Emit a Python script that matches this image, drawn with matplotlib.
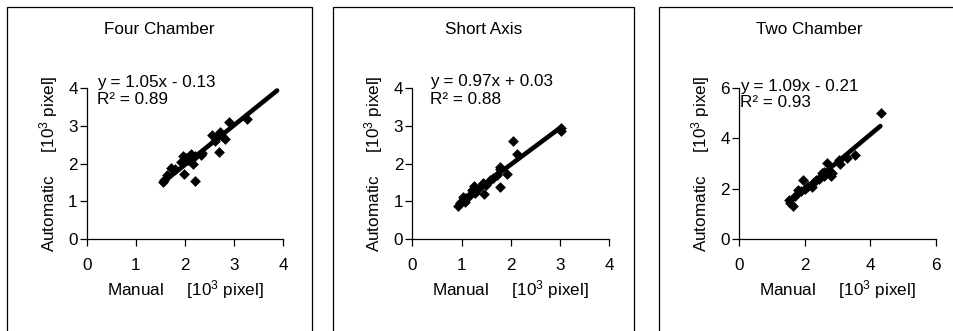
import matplotlib
matplotlib.use("Agg")
import matplotlib.pyplot as plt
from matplotlib.patches import Rectangle
import numpy as np

plt.rcParams['font.family'] = ['Liberation Sans', 'DejaVu Sans']
plt.rcParams['mathtext.fontset'] = 'custom'
plt.rcParams['mathtext.rm'] = 'Liberation Sans'
plt.rcParams['mathtext.it'] = 'Liberation Sans:italic'

titles = ["Four Chamber", "Short Axis", "Two Chamber"]
equations = ["y = 1.05x - 0.13", "y = 0.97x + 0.03", "y = 1.09x - 0.21"]
r2_labels = ["0.89", "0.88", "0.93"]
slopes = [1.05, 0.97, 1.09]
intercepts = [-0.13, 0.03, -0.21]
line_x_ranges = [(1.55, 3.87), (0.93, 3.02), (1.51, 4.31)]
axis_max = [4, 4, 6]
tick_steps = [1, 1, 2]

four_x = [1.55, 1.57, 1.63, 1.71, 1.80, 1.91, 1.96, 1.98, 2.02, 2.05, 2.11, 2.17, 2.20, 2.20,
          2.34, 2.33, 2.54, 2.60, 2.65, 2.69, 2.71, 2.75, 2.81, 2.90, 3.25]
four_y = [1.50, 1.56, 1.70, 1.87, 1.85, 2.05, 2.20, 1.72, 2.15, 2.10, 2.25, 2.00, 1.54, 2.20,
          2.29, 2.22, 2.75, 2.60, 2.70, 2.30, 2.84, 2.72, 2.64, 3.11, 3.17]

short_x = [0.93, 0.97, 1.00, 1.03, 1.05, 1.08, 1.10, 1.15, 1.22, 1.25, 1.27, 1.35, 1.43, 1.46,
           1.50, 1.58, 1.65, 1.73, 1.78, 1.78, 1.79, 1.92, 2.05, 2.13, 3.02, 3.02]
short_y = [0.88, 0.95, 1.00, 1.12, 1.05, 0.99, 1.08, 1.15, 1.30, 1.40, 1.23, 1.35, 1.49, 1.18,
           1.42, 1.55, 1.62, 1.70, 1.85, 1.90, 1.39, 1.72, 2.60, 2.25, 2.86, 2.95]

two_x = [1.51, 1.56, 1.66, 1.72, 1.81, 1.90, 1.95, 2.00, 2.10, 2.22, 2.27, 2.35, 2.45, 2.53,
         2.58, 2.60, 2.68, 2.75, 2.82, 2.83, 3.04, 3.09, 3.29, 3.55, 4.34]
two_y = [1.55, 1.42, 1.31, 1.70, 1.95, 1.90, 2.34, 2.00, 2.10, 2.08, 2.21, 2.35, 2.40, 2.61,
         2.67, 2.50, 3.01, 2.70, 2.52, 2.64, 3.14, 3.00, 3.21, 3.34, 5.02]

data_x = [four_x, short_x, two_x]
data_y = [four_y, short_y, two_y]

W, H = 954, 331
fig = plt.figure(figsize=(W / 100, H / 100), dpi=100)

ax_left_px = [86.7, 412.3, 739.0]
ax_width_px = 196.8
ax_bottom_px = 239.0
ax_top_px = 88.0
box_left_px = [7, 333, 659]
box_right_px = [312, 634, 960]
fs = 12.3
eq_x_px = [10, 17.7, 1]
eq_y_px = [83, 81.7, 86.0]
r2_y_px = [100, 99, 102.5]

for i in range(3):
    ax = fig.add_axes([ax_left_px[i] / W, 1 - ax_bottom_px / H, ax_width_px / W,
                       (ax_bottom_px - ax_top_px) / H])
    ax.patch.set_alpha(0)
    ax.scatter(data_x[i], data_y[i], marker='D', s=30, color='black', zorder=3, linewidths=0)
    lx = np.array(line_x_ranges[i])
    ax.plot(lx, slopes[i] * lx + intercepts[i], color='black', lw=3.3,
            solid_capstyle='round', zorder=2)
    ax.set_xlim(0, axis_max[i])
    ax.set_ylim(0, axis_max[i])
    ticks = np.arange(0, axis_max[i] + 0.01, tick_steps[i])
    ax.set_xticks(ticks)
    ax.set_yticks(ticks)
    ax.set_xticklabels([f"{int(t)}" for t in ticks], fontsize=fs)
    ax.set_yticklabels([f"{int(t)}" for t in ticks], fontsize=fs)
    for s in ['top', 'right']:
        ax.spines[s].set_visible(False)
    for s in ['left', 'bottom']:
        ax.spines[s].set_linewidth(0.9)
        ax.spines[s].set_color('black')
    ax.tick_params(axis='x', direction='out', length=5, width=0.9, pad=8.5)
    ax.tick_params(axis='y', direction='out', length=5, width=0.9, pad=1.5)
    for sp in ax.spines.values():
        sp.set_clip_on(False)

    hw = ax_width_px
    hh = ax_bottom_px - ax_top_px
    ax.text(0.5, -51 / hh, "Manual     [10$^\\mathregular{3}$ pixel]", transform=ax.transAxes,
            ha='center', va='center', fontsize=fs)
    ax.text(-38.5 / hw, 0.5, "Automatic     [10$^\\mathregular{3}$ pixel]", transform=ax.transAxes,
            ha='center', va='center', rotation=90, fontsize=fs)

    ex = eq_x_px[i] / hw
    ax.text(ex, (ax_bottom_px - eq_y_px[i]) / hh, equations[i], transform=ax.transAxes,
            ha='left', va='center', fontsize=fs)
    ax.text(ex, (ax_bottom_px - r2_y_px[i]) / hh, "R\u00b2 = " + r2_labels[i],
            transform=ax.transAxes, ha='left', va='center', fontsize=fs)

    cx = (box_left_px[i] + box_right_px[i]) / 2
    fig.text(cx / W, 1 - 30 / H, titles[i], ha='center', va='center', fontsize=fs)

    rect = Rectangle((box_left_px[i] / W, -0.2), (box_right_px[i] - box_left_px[i]) / W,
                     1.2 - 7 / H, transform=fig.transFigure, fill=False,
                     edgecolor='black', lw=0.9, clip_on=False)
    fig.add_artist(rect)

fig.savefig("out.png", dpi=100)
